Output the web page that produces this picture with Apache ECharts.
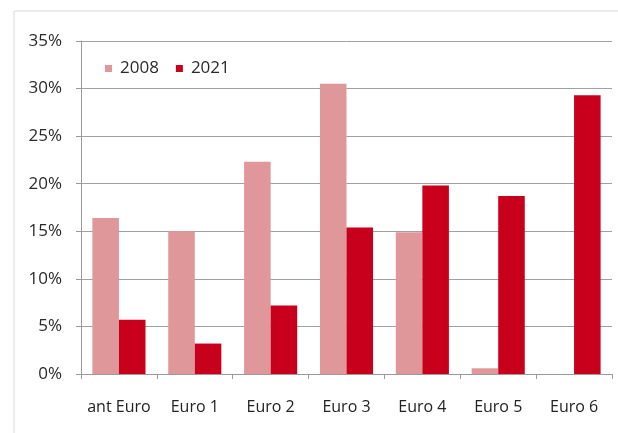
<!DOCTYPE html>
<html>
<head>
<meta charset="utf-8">
<script src="https://cdn.jsdelivr.net/npm/echarts@6/dist/echarts.min.js"></script>
<style>
  html, body { margin: 0; padding: 0; background: #fff; }
  #chart { width: 618px; height: 433px; }
</style>
</head>
<body>
<div id="chart"></div>
<script>
// Emission-standard categories
const categories = ['ant Euro', 'Euro 1', 'Euro 2', 'Euro 3', 'Euro 4', 'Euro 5', 'Euro 6'];
// Fleet share per standard, in percent
const share2008 = [16.4, 15.0, 22.3, 30.5, 14.9, 0.6, 0];
const share2021 = [5.7, 3.2, 7.2, 15.4, 19.8, 18.7, 29.3];
const seriesNames = ['2008', '2021'];
const yTicks = { min: 0, max: 35, step: 5 };

const FONT = 'Open Sans, Liberation Sans, sans-serif';
const chart = echarts.init(document.getElementById('chart'), null, { renderer: 'canvas' });

chart.setOption({
  animation: false,
  backgroundColor: '#ffffff',
  color: ['#e0979a', '#c8001c'],
  graphic: [{
    type: 'polyline',
    shape: { points: [[14, 433], [14, 11], [618, 11]] },
    style: { stroke: '#d8d8d8', lineWidth: 1, fill: null },
    silent: true
  }],
  legend: {
    left: 100,
    top: 55,
    itemWidth: 7,
    itemHeight: 7,
    itemGap: 17,
    icon: 'rect',
    textStyle: { fontFamily: FONT, fontSize: 17, color: '#2a2a2a', padding: [0, 0, 0, 3] },
    data: seriesNames
  },
  grid: { left: 81, right: 6, top: 41, bottom: 59, containLabel: false },
  xAxis: {
    type: 'category',
    data: categories,
    axisLine: { lineStyle: { color: '#9a9a9a', width: 1 } },
    axisTick: { show: true, length: 5, alignWithLabel: false, lineStyle: { color: '#9a9a9a' } },
    axisLabel: { interval: 0, hideOverlap: false, fontFamily: FONT, fontSize: 16, color: '#222', margin: 25 }
  },
  yAxis: {
    type: 'value',
    min: yTicks.min,
    max: yTicks.max,
    interval: yTicks.step,
    axisLine: { show: true, lineStyle: { color: '#9a9a9a', width: 1 } },
    axisTick: { show: true, length: 5, lineStyle: { color: '#9a9a9a' } },
    splitLine: { lineStyle: { color: '#a0a0a0', width: 1 } },
    axisLabel: { fontFamily: FONT, fontSize: 17, color: '#2a2a2a', margin: 19, formatter: v => v + '%' }
  },
  series: [
    { name: seriesNames[0], type: 'bar', data: share2008, barGap: '0%', barCategoryGap: '30%' },
    { name: seriesNames[1], type: 'bar', data: share2021, barGap: '0%', barCategoryGap: '30%' }
  ]
});
</script>
</body>
</html>
